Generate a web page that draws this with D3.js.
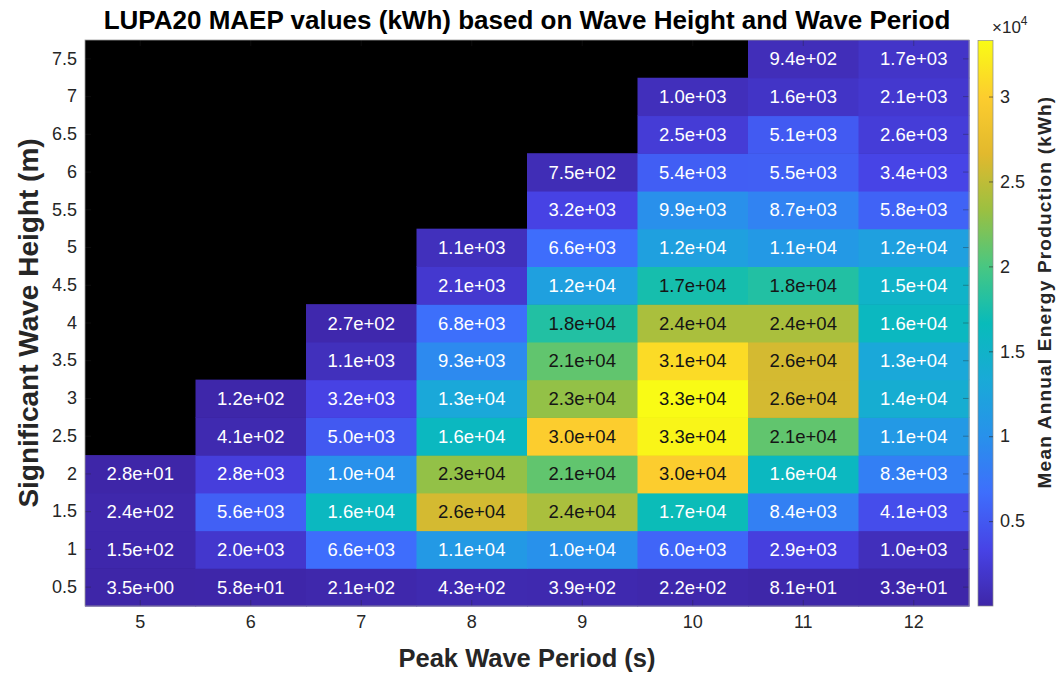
<!DOCTYPE html>
<html>
<head>
<meta charset="utf-8">
<script src="https://cdn.jsdelivr.net/npm/d3@7"></script>
<style>
  html, body { margin: 0; padding: 0; background: #fff; }
  svg { display: block; font-family: "Liberation Sans", Arial, Helvetica, sans-serif; }
</style>
</head>
<body>
<svg id="chart" width="1057" height="673"></svg>
<script>
// ---------------- DATA ----------------
const periods = [5, 6, 7, 8, 9, 10, 11, 12];                       // Peak wave period (s)
const heights = [0.5, 1, 1.5, 2, 2.5, 3, 3.5, 4, 4.5, 5, 5.5, 6, 6.5, 7, 7.5]; // Hs (m)

// MAEP (kWh) per wave height row, one value per period (null = no data)
const row0_5 = [3.5, 58, 210, 430, 390, 220, 81, 33];
const row1_0 = [150, 2000, 6600, 11000, 10000, 6000, 2900, 1000];
const row1_5 = [240, 5600, 16000, 26000, 24000, 16800, 8400, 4100];
const row2_0 = [28, 2800, 10000, 23000, 21000, 30000, 16000, 8300];
const row2_5 = [null, 410, 5000, 16000, 30000, 32900, 21000, 11000];
const row3_0 = [null, 120, 3200, 13000, 23000, 33300, 26000, 14000];
const row3_5 = [null, null, 1100, 9300, 21000, 31000, 26000, 13000];
const row4_0 = [null, null, 270, 6800, 18000, 24000, 24000, 16000];
const row4_5 = [null, null, null, 2100, 12000, 17400, 18000, 15000];
const row5_0 = [null, null, null, 1100, 6600, 12000, 11000, 12000];
const row5_5 = [null, null, null, null, 3200, 9900, 8700, 5800];
const row6_0 = [null, null, null, null, 750, 5400, 5500, 3400];
const row6_5 = [null, null, null, null, null, 2500, 5100, 2600];
const row7_0 = [null, null, null, null, null, 1000, 1600, 2100];
const row7_5 = [null, null, null, null, null, null, 940, 1700];
const maepRows = [row0_5, row1_0, row1_5, row2_0, row2_5, row3_0, row3_5, row4_0,
                  row4_5, row5_0, row5_5, row6_0, row6_5, row7_0, row7_5];

const colorbarTicks = [5000, 10000, 15000, 20000, 25000, 30000];

const titleText = "LUPA20 MAEP values (kWh) based on Wave Height and Wave Period";
const xLabelText = "Peak Wave Period (s)";
const yLabelText = "Significant Wave Height (m)";
const cbLabelText = "Mean Annual Energy Production (kWh)";

// ---------------- STYLE ----------------
// parula-like colormap anchors
const parula = ["#3e26a8", "#4743e6", "#3e6efc", "#2891eb", "#19aad7",
                "#08bbba", "#48c782", "#9bc041", "#e2b92d", "#fccd2e", "#f9fb15"];
const axisColor = "#262626";

// ---------------- BUILD ----------------
const cells = [];
maepRows.forEach((row, i) => {
  row.forEach((v, j) => {
    if (v !== null) cells.push({ h: heights[i], p: periods[j], v });
  });
});
const allVals = cells.map(d => d.v);
const vMin = d3.min(allVals), vMax = d3.max(allVals);

const svg = d3.select("#chart");
const plot = { left: 85, right: 969, top: 40, bottom: 606 };

const x = d3.scaleBand().domain(periods).range([plot.left, plot.right]).padding(0);
const y = d3.scaleBand().domain(heights.slice().reverse()).range([plot.top, plot.bottom]).padding(0);
const color = d3.scaleSequential(d3.piecewise(d3.interpolateRgb, parula)).domain([vMin, vMax]);

function fmtExp(v) {
  const s = v.toExponential(1);
  const [m, e] = s.split("e");
  const sign = e[0];
  const digits = e.slice(1).padStart(2, "0");
  return m + "e" + sign + digits;
}

// black background (missing data)
svg.append("rect")
  .attr("x", plot.left).attr("y", plot.top)
  .attr("width", plot.right - plot.left).attr("height", plot.bottom - plot.top)
  .attr("fill", "#000");

// cells
svg.append("g").selectAll("rect").data(cells).join("rect")
  .attr("x", d => x(d.p))
  .attr("y", d => y(d.h))
  .attr("width", x.bandwidth() + 0.6)
  .attr("height", y.bandwidth() + 0.6)
  .attr("fill", d => color(d.v));

// cell labels
svg.append("g").selectAll("text").data(cells).join("text")
  .attr("x", d => x(d.p) + x.bandwidth() / 2)
  .attr("y", d => y(d.h) + y.bandwidth() / 2)
  .attr("text-anchor", "middle")
  .attr("dominant-baseline", "central")
  .attr("font-size", 18.5)
  .attr("fill", d => d.v >= 17000 ? "#151515" : "#fff")
  .text(d => fmtExp(d.v));

// axes (ticks inward)
const tickLen = 6;
const gx = svg.append("g").attr("transform", `translate(0,${plot.bottom})`)
  .call(d3.axisBottom(x).tickSizeInner(-tickLen).tickSizeOuter(0).tickPadding(6));
const gy = svg.append("g").attr("transform", `translate(${plot.left},0)`)
  .call(d3.axisLeft(y).tickSizeInner(-tickLen).tickSizeOuter(0).tickPadding(8));
const gxt = svg.append("g").attr("transform", `translate(0,${plot.top})`)
  .call(d3.axisTop(x).tickSizeInner(-tickLen).tickSizeOuter(0).tickFormat(""));
const gyr = svg.append("g").attr("transform", `translate(${plot.right},0)`)
  .call(d3.axisRight(y).tickSizeInner(-tickLen).tickSizeOuter(0).tickFormat(""));
[gx, gy, gxt, gyr].forEach(g => {
  g.select(".domain").remove();
  g.selectAll(".tick line").attr("stroke", axisColor).attr("stroke-opacity", 0.35);
  g.selectAll(".tick text").attr("fill", axisColor).attr("font-size", 18)
    .attr("font-family", "Liberation Sans, Arial, sans-serif");
});
gx.selectAll(".tick text").attr("dy", "0.9em");

// plot box
svg.append("rect")
  .attr("x", plot.left).attr("y", plot.top)
  .attr("width", plot.right - plot.left).attr("height", plot.bottom - plot.top)
  .attr("fill", "none").attr("stroke", "#9a9a9a").attr("stroke-width", 0.8);

// title & axis labels
svg.append("text")
  .attr("x", (plot.left + plot.right) / 2).attr("y", 29)
  .attr("text-anchor", "middle").attr("font-weight", "bold").attr("font-size", 26)
  .attr("fill", "#000").text(titleText);

svg.append("text")
  .attr("x", (plot.left + plot.right) / 2).attr("y", 667)
  .attr("text-anchor", "middle").attr("font-weight", "bold").attr("font-size", 25.5)
  .attr("fill", axisColor).text(xLabelText);

svg.append("text")
  .attr("transform", `translate(38,${(plot.top + plot.bottom) / 2}) rotate(-90)`)
  .attr("text-anchor", "middle").attr("font-weight", "bold").attr("font-size", 28)
  .attr("fill", axisColor).text(yLabelText);

// ---------------- COLORBAR ----------------
const cb = { left: 978, width: 15, top: 40.5, bottom: 606 };
const cbScale = d3.scaleLinear().domain([vMin, vMax]).range([cb.bottom, cb.top]);

const defs = svg.append("defs");
const grad = defs.append("linearGradient").attr("id", "cbgrad")
  .attr("x1", 0).attr("y1", 1).attr("x2", 0).attr("y2", 0);
d3.range(0, 1.0001, 0.02).forEach(t => {
  grad.append("stop").attr("offset", t).attr("stop-color", color(vMin + t * (vMax - vMin)));
});
svg.append("rect")
  .attr("x", cb.left).attr("y", cb.top)
  .attr("width", cb.width).attr("height", cb.bottom - cb.top)
  .attr("fill", "url(#cbgrad)")
  .attr("stroke", "#8a8a8a").attr("stroke-width", 0.7);

const gcb = svg.append("g").attr("transform", `translate(${cb.left + cb.width},0)`)
  .call(d3.axisRight(cbScale).tickValues(colorbarTicks)
    .tickFormat(d => d3.format("")(d / 10000))
    .tickSizeInner(-4).tickSizeOuter(0).tickPadding(7));
gcb.select(".domain").remove();
gcb.selectAll(".tick line").attr("stroke", axisColor).attr("stroke-opacity", 0.6);
gcb.selectAll(".tick text").attr("fill", axisColor).attr("font-size", 18)
  .attr("font-family", "Liberation Sans, Arial, sans-serif");

const mult = svg.append("text").attr("x", 992).attr("y", 33)
  .attr("font-size", 17).attr("fill", axisColor);
mult.append("tspan").text("\u00d710");
mult.append("tspan").attr("dy", -8).attr("font-size", 12).text("4");

svg.append("text")
  .attr("transform", `translate(1051,${292}) rotate(-90)`)
  .attr("text-anchor", "middle").attr("font-weight", "bold").attr("font-size", 19)
  .attr("letter-spacing", 1.2)
  .attr("fill", axisColor).text(cbLabelText);
</script>
</body>
</html>
